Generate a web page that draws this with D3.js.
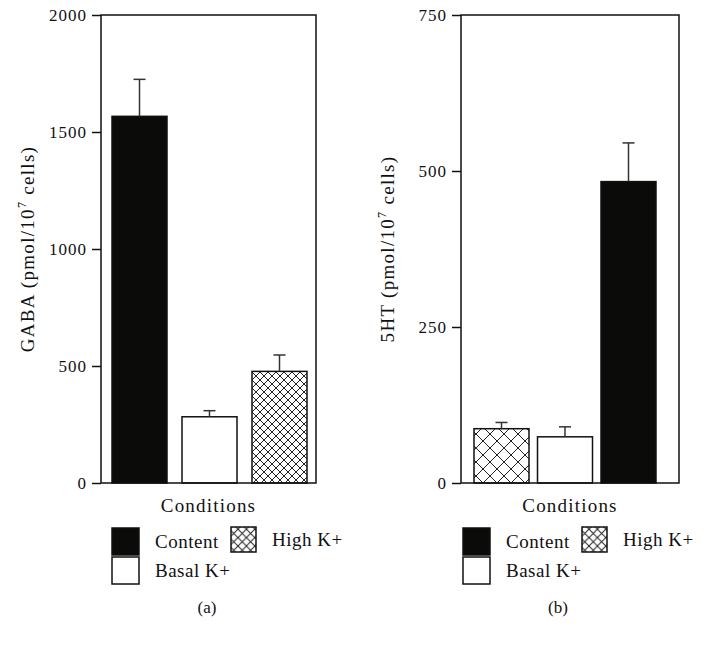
<!DOCTYPE html>
<html>
<head>
<meta charset="utf-8">
<script src="https://cdn.jsdelivr.net/npm/d3@7"></script>
<style>
  body { margin: 0; background: #fff; }
  text { font-family: "Liberation Serif", "DejaVu Serif", serif; fill: #111; }
</style>
</head>
<body>
<svg id="chart"></svg>
<script>
const width = 720;
const height = 651;

// panel (a): GABA
const gabaCategories = ["Content", "Basal K+", "High K+"];
const gabaValues = [1567, 283, 477];
const gabaErrors = [158, 26, 70];
const gabaTicks = [0, 500, 1000, 1500, 2000];

// panel (b): 5HT
const htCategories = ["High K+", "Basal K+", "Content"];
const htValues = [87, 74, 483];
const htErrors = [10, 16, 62];
const htTicks = [0, 250, 500, 750];

const legendItems = ["Content", "Basal K+", "High K+"];

const svg = d3.select("#chart").attr("width", width).attr("height", height);
const defs = svg.append("defs");

const makeHatch = (id, size) => {
  const p = defs
    .append("pattern")
    .attr("id", id)
    .attr("patternUnits", "userSpaceOnUse")
    .attr("width", size)
    .attr("height", size);
  p.append("rect").attr("width", size).attr("height", size).attr("fill", "#fff");
  p.append("path")
    .attr("d", `M0,0 L${size},${size} M${size},0 L0,${size}`)
    .attr("stroke", "#222")
    .attr("stroke-width", 1);
};
makeHatch("hatchA", 8);
makeHatch("hatchB", 14);
makeHatch("hatchL", 8.4);

const fillFor = (cat, hatchId) => {
  if (cat === "Content") return "#0b0c0a";
  if (cat === "Basal K+") return "#fff";
  return `url(#${hatchId})`;
};

const drawPanel = (cfg) => {
  const { left, right, top, bottom, categories, values, errors, ticks, maxY,
    padIn, padOut, bandRight, hatchId, label } = cfg;

  const g = svg.append("g");

  const y = d3.scaleLinear().domain([0, maxY]).range([bottom, top]);
  const x = d3
    .scaleBand()
    .domain(categories)
    .range([left, bandRight])
    .paddingInner(padIn)
    .paddingOuter(padOut);

  // bars
  g.selectAll("rect.bar")
    .data(categories)
    .enter()
    .append("rect")
    .attr("class", "bar")
    .attr("x", (d) => x(d))
    .attr("y", (d, i) => y(values[i]))
    .attr("width", x.bandwidth())
    .attr("height", (d, i) => bottom - y(values[i]))
    .attr("fill", (d) => fillFor(d, hatchId))
    .attr("stroke", "#111")
    .attr("stroke-width", 1.5);

  // error bars (upper only)
  categories.forEach((d, i) => {
    const cx = x(d) + x.bandwidth() / 2;
    g.append("line")
      .attr("x1", cx).attr("x2", cx)
      .attr("y1", y(values[i])).attr("y2", y(values[i] + errors[i]))
      .attr("stroke", "#333").attr("stroke-width", 1.5);
    g.append("line")
      .attr("x1", cx - 6).attr("x2", cx + 6)
      .attr("y1", y(values[i] + errors[i])).attr("y2", y(values[i] + errors[i]))
      .attr("stroke", "#333").attr("stroke-width", 1.5);
  });

  // frame
  g.append("rect")
    .attr("x", left).attr("y", top)
    .attr("width", right - left).attr("height", bottom - top)
    .attr("fill", "none").attr("stroke", "#111").attr("stroke-width", 1.5);

  // y axis
  const axis = g
    .append("g")
    .attr("transform", `translate(${left},0)`)
    .call(d3.axisLeft(y).tickValues(ticks).tickSize(9).tickPadding(5).tickFormat(d3.format("d")));
  axis.select(".domain").remove();
  axis.selectAll(".tick line").attr("stroke", "#111").attr("stroke-width", 1.5);
  axis.selectAll(".tick text")
    .attr("font-family", "Liberation Serif")
    .attr("font-size", 17)
    .attr("letter-spacing", 1)
    .attr("fill", "#111");

  // y label
  const yl = g
    .append("text")
    .attr("transform", `translate(${left - 67},${(top + bottom) / 2}) rotate(-90)`)
    .attr("text-anchor", "middle")
    .attr("font-size", 19)
    .attr("letter-spacing", 1.3);
  yl.append("tspan").text(label + " (pmol/10");
  yl.append("tspan").attr("font-size", 12).attr("dy", -8).text("7");
  yl.append("tspan").attr("dy", 8).text(" cells)");

  // x title
  g.append("text")
    .attr("x", (left + right) / 2)
    .attr("y", bottom + 29)
    .attr("text-anchor", "middle")
    .attr("font-size", 19)
    .attr("letter-spacing", 1.2)
    .text("Conditions");
};

drawPanel({
  left: 101, right: 316, top: 15, bottom: 483,
  categories: gabaCategories, values: gabaValues, errors: gabaErrors,
  ticks: gabaTicks, maxY: 2000, padIn: 15 / 70, padOut: 11 / 70, bandRight: 318,
  hatchId: "hatchA", label: "GABA"
});

drawPanel({
  left: 461, right: 679, top: 15, bottom: 483,
  categories: htCategories, values: htValues, errors: htErrors,
  ticks: htTicks, maxY: 750, padIn: 8.5 / 63.5, padOut: 13 / 63.5, bandRight: 669,
  hatchId: "hatchB", label: "5HT"
});

// legends
const drawLegend = (x0, tag) => {
  const lg = svg.append("g").attr("transform", `translate(${x0},0)`);
  const pos = [
    { dx: 0, dy: 528, s: 27 },
    { dx: 0, dy: 557, s: 27 },
    { dx: 119, dy: 527, s: 25 }
  ];
  legendItems.forEach((d, i) => {
    const p = pos[i];
    lg.append("rect")
      .attr("x", p.dx).attr("y", p.dy)
      .attr("width", p.s).attr("height", p.s)
      .attr("fill", fillFor(d, "hatchL"))
      .attr("stroke", "#111").attr("stroke-width", 1.5);
    lg.append("text")
      .attr("x", p.dx + p.s + 16)
      .attr("y", p.dy + p.s / 2 + 6)
      .attr("font-size", 19)
      .attr("letter-spacing", 0.5)
      .text(d);
  });
  lg.append("text")
    .attr("x", 95).attr("y", 613)
    .attr("text-anchor", "middle")
    .attr("font-size", 17)
    .text(tag);
};
drawLegend(112, "(a)");
drawLegend(463, "(b)");
</script>
</body>
</html>
